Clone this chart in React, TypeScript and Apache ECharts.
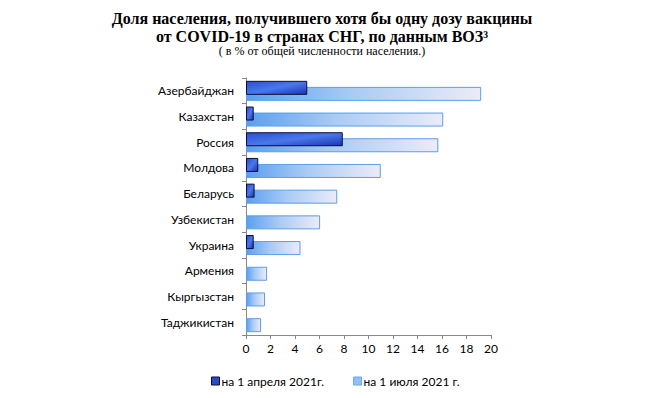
import React, { useEffect, useRef } from "react";
import * as echarts from "echarts";

const categories = [
  "Азербайджан",
  "Казахстан",
  "Россия",
  "Молдова",
  "Беларусь",
  "Узбекистан",
  "Украина",
  "Армения",
  "Кыргызстан",
  "Таджикистан",
];
const april: (number | null)[] = [5.0, 0.63, 7.9, 1.0, 0.7, null, 0.63, null, null, null];
const july: number[] = [19.2, 16.1, 15.7, 11.0, 7.45, 6.05, 4.45, 1.72, 1.55, 1.23];
const seriesNames = ["на 1 апреля 2021г.", "на 1 июля 2021 г."];
const xTicks = { min: 0, max: 20, interval: 2 };

export default function App() {
  const ref = useRef<HTMLDivElement>(null);
  useEffect(() => {
    if (!ref.current) return;
    const chart = echarts.init(ref.current, null, { renderer: "svg" });
    const lightGrad = new echarts.graphic.LinearGradient(0, 0, 1, 0, [
      { offset: 0, color: "#5b9ff0" },
      { offset: 0.45, color: "#a9cbf5" },
      { offset: 1, color: "#ecebf8" },
    ]);
    const darkGrad = new echarts.graphic.LinearGradient(0, 0, 1, 1, [
      { offset: 0, color: "#2a4fd0" },
      { offset: 0.5, color: "#4a78ea" },
      { offset: 1, color: "#1a34b0" },
    ]);
    chart.setOption({
      animation: false,
      backgroundColor: "#ffffff",
      title: {
        text: "Доля населения, получившего хотя бы одну дозу вакцины\nот COVID-19 в странах СНГ, по данным ВОЗ³",
        subtext: "( в % от общей численности населения.)",
        left: 317,
        top: 4,
        textAlign: "center",
        itemGap: 0,
        textStyle: {
          fontFamily: "Liberation Serif",
          fontWeight: "bold",
          fontSize: 16,
          lineHeight: 18,
          color: "#000",
        },
        subtextStyle: {
          fontFamily: "Liberation Serif",
          fontSize: 12,
          color: "#000",
        },
      },
      legend: {
        left: 206,
        top: 370,
        itemWidth: 8,
        itemHeight: 8,
        itemGap: 29,
        icon: "rect",
        textStyle: { fontFamily: "Lato, 'Noto Sans'", fontSize: 12, color: "#000", padding: [0, 0, 0, -3] },
        data: [
          { name: seriesNames[0], itemStyle: { color: "#2a4cc8", borderColor: "#0a0f3a", borderWidth: 1 } },
          { name: seriesNames[1], itemStyle: { color: "#8fc1f3", borderColor: "#6aa8e8", borderWidth: 1 } },
        ],
      },
      grid: { left: 246, right: 161, top: 78, bottom: 63, containLabel: false },
      xAxis: {
        type: "value",
        min: xTicks.min,
        max: xTicks.max,
        interval: xTicks.interval,
        splitLine: { show: false },
        axisLine: { show: true, lineStyle: { color: "#888" } },
        axisTick: { show: true, length: 4, lineStyle: { color: "#888" } },
        axisLabel: { fontFamily: "Lato, 'Noto Sans'", fontSize: 12, color: "#000", margin: 7 },
      },
      yAxis: {
        type: "category",
        inverse: true,
        data: categories,
        axisLine: { show: true, lineStyle: { color: "#888" } },
        axisTick: { show: true, length: 4, lineStyle: { color: "#888" } },
        axisLabel: { fontFamily: "Lato, 'Noto Sans'", fontSize: 12, color: "#000", margin: 12 },
      },
      series: [
        {
          name: seriesNames[0],
          type: "bar",
          data: april,
          barWidth: 14,
          barGap: "-57%",
          z: 3,
          itemStyle: { color: darkGrad, borderColor: "#0a0f3a", borderWidth: 1 },
        },
        {
          name: seriesNames[1],
          type: "bar",
          data: july,
          barWidth: 14,
          z: 2,
          itemStyle: { color: lightGrad, borderColor: "#5b9fe6", borderWidth: 1 },
        },
      ],
    });
    return () => chart.dispose();
  }, []);
  return (
    <div
      ref={ref}
      style={{ position: "fixed", left: 0, top: 0, width: 652, height: 398 }}
    />
  );
}
